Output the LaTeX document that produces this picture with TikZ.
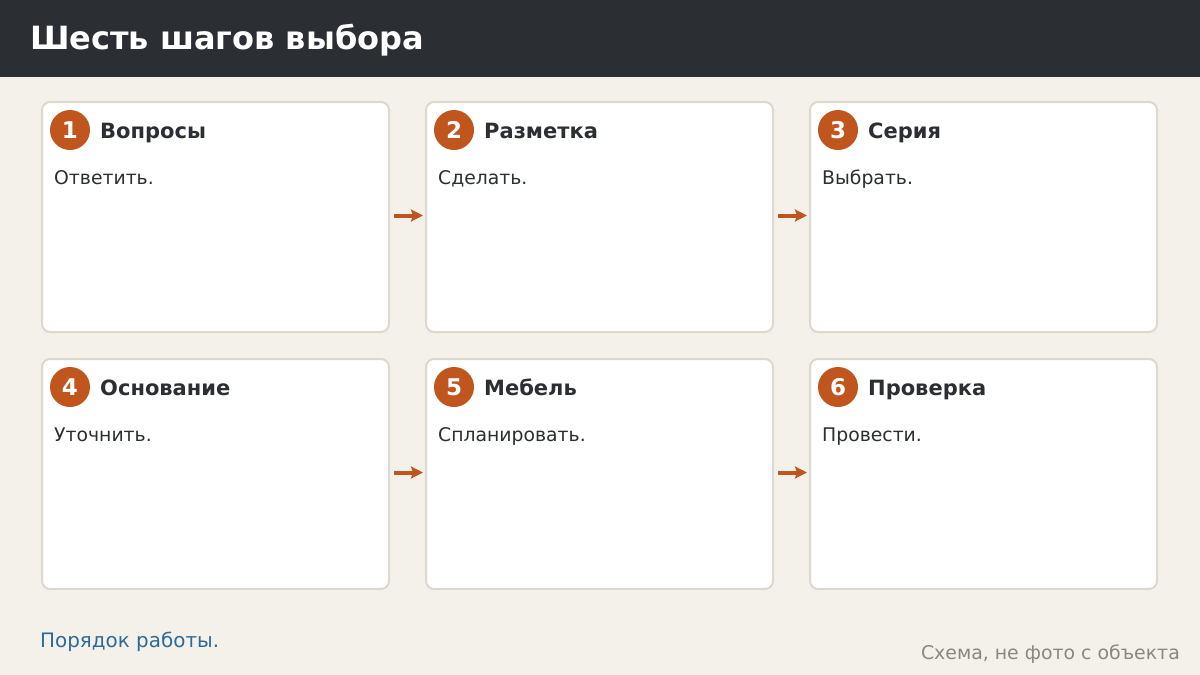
\documentclass[tikz,border=0pt]{standalone}
\usepackage{fontspec}
\setmainfont{DejaVu Sans}
\usetikzlibrary{arrows.meta}
\definecolor{bg}{HTML}{F4F1EB}
\definecolor{hdr}{HTML}{2B2E33}
\definecolor{cardline}{HTML}{DDD8CF}
\definecolor{accent}{HTML}{C0561E}
\definecolor{ink}{HTML}{2B2E33}
\definecolor{link}{HTML}{2E6A96}
\definecolor{note}{HTML}{8A8782}
\begin{document}
\begin{tikzpicture}[x=1pt,y=-1pt,
  card/.style={draw=cardline,line width=2pt,fill=white,rounded corners=8pt,minimum width=347pt,minimum height=230pt,inner sep=0pt,anchor=north west},
  badge/.style={circle,fill=accent,minimum size=40pt,inner sep=0pt,text=white,font=\bfseries\fontsize{23}{23}\selectfont},
  ctitle/.style={anchor=base west,inner sep=0pt,text=ink,font=\bfseries\fontsize{21}{21}\selectfont},
  cbody/.style={anchor=base west,inner sep=0pt,text=ink,font=\fontsize{18.8}{18.8}\selectfont},
  flow/.style={draw=accent,line width=4pt,-{Stealth[length=12pt,width=12pt,inset=2pt]}}]
\useasboundingbox (0,0) rectangle (1200,675);
\fill[bg] (0,0) rectangle (1200,675);
\fill[hdr] (0,0) rectangle (1200,77);
\node[anchor=base west,inner sep=0pt,text=white,font=\bfseries\fontsize{32}{32}\selectfont] (title) at (30,49) {Шесть шагов выбора};
\foreach \i/\x/\y/\t/\b in {1/41/101/Вопросы/Ответить., 2/425/101/Разметка/Сделать., 3/809/101/Серия/Выбрать., 4/41/358/Основание/Уточнить., 5/425/358/Мебель/Спланировать., 6/809/358/Проверка/Провести.}{
  \node[card] (c\i) at (\x,\y) {};
  \node[badge] (n\i) at (\x+29,\y+29) {\i};
  \node[ctitle] (t\i) at (\x+59,\y+37) {\t};
  \node[cbody] (b\i) at (\x+13,\y+83) {\b};
}
\coordinate (a1s) at (394,215.5); \coordinate (a1e) at (423,215.5);
\coordinate (a2s) at (778,215.5); \coordinate (a2e) at (807,215.5);
\coordinate (a3s) at (394,472.5); \coordinate (a3e) at (423,472.5);
\coordinate (a4s) at (778,472.5); \coordinate (a4e) at (807,472.5);
\draw[flow] (a1s) -- (a1e);
\draw[flow] (a2s) -- (a2e);
\draw[flow] (a3s) -- (a3e);
\draw[flow] (a4s) -- (a4e);
\node[anchor=base west,inner sep=0pt,text=link,font=\fontsize{19.9}{19.9}\selectfont] (foot) at (40,647) {Порядок работы.};
\node[anchor=base east,inner sep=0pt,text=note,font=\fontsize{18.9}{18.9}\selectfont] (credit) at (1180,659) {Схема, не фото с объекта};
\end{tikzpicture}
\end{document}
